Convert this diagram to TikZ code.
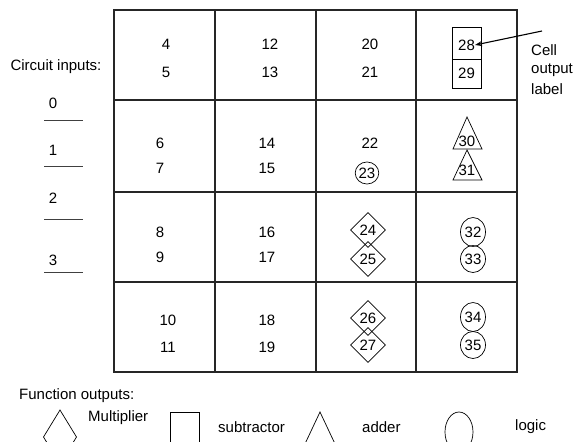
\documentclass[tikz,border=0pt]{standalone}
\usepackage{fontspec}
\setmainfont{Liberation Sans}
\usetikzlibrary{shapes.geometric,arrows.meta}
\begin{document}
\begin{tikzpicture}[x=1pt,y=-1pt,
  lbl/.style={font=\fontsize{15}{17}\selectfont,inner sep=0pt},
  grid/.style={line width=1.1pt,draw=black!85},
  dia/.style={draw,diamond,inner sep=0pt,minimum width=35pt,minimum height=35pt,line width=0.7pt,font=\fontsize{15}{17}\selectfont},
  ell/.style={draw,ellipse,inner sep=0pt,line width=0.7pt,font=\fontsize{15}{17}\selectfont},
  shp/.style={line width=0.7pt},
  inline/.style={line width=0.9pt,draw=black!75}]
\useasboundingbox (0,0) rectangle (574,442);
\clip (0,0) rectangle (574,442);
% grid
\draw[grid] (114,10) rectangle (517,372);
\foreach \x in {215,316,416} \draw[grid] (\x,10) -- (\x,372);
\foreach \y in {100,192,282} \draw[grid] (114,\y) -- (517,\y);
% column 1
\node[lbl] (n4) at (166,44) {4};
\node[lbl] (n5) at (166,72) {5};
\node[lbl] (n6) at (160,143) {6};
\node[lbl] (n7) at (160,168) {7};
\node[lbl] (n8) at (160,232) {8};
\node[lbl] (n9) at (160,257) {9};
\node[lbl] (n10) at (168,320) {10};
\node[lbl] (n11) at (168,347) {11};
% column 2
\node[lbl] (n12) at (270,44) {12};
\node[lbl] (n13) at (270,72) {13};
\node[lbl] (n14) at (267,143) {14};
\node[lbl] (n15) at (267,168) {15};
\node[lbl] (n16) at (267,232) {16};
\node[lbl] (n17) at (267,257) {17};
\node[lbl] (n18) at (267,320) {18};
\node[lbl] (n19) at (267,347) {19};
% column 3
\node[lbl] (n20) at (370,44) {20};
\node[lbl] (n21) at (370,72) {21};
\node[lbl] (n22) at (370,143) {22};
\node[ell,minimum width=23pt,minimum height=22pt] (n23) at (367,173) {23};
\node[dia] (n24) at (368,230) {24};
\node[dia] (n25) at (368,259) {25};
\node[dia] (n26) at (368,318) {26};
\node[dia] (n27) at (368,345) {27};
% column 4
\draw[shp] (452,27) rectangle (481,88);
\draw[shp] (452,59) -- (481,59);
\node[lbl] (n28) at (466.5,45) {28};
\node[lbl] (n29) at (466.5,73) {29};
\draw[shp] (467,117) -- (482,149) -- (453,149) -- cycle;
\draw[shp] (467,150) -- (482,180) -- (453,180) -- cycle;
\node[lbl] (n30) at (467,141) {30};
\node[lbl] (n31) at (467,170) {31};
\node[ell,minimum width=25pt,minimum height=29pt] (n32) at (473,232) {32};
\node[ell,minimum width=25pt,minimum height=27pt] (n33) at (473,259) {33};
\node[ell,minimum width=25pt,minimum height=29pt] (n34) at (473,317) {34};
\node[ell,minimum width=25pt,minimum height=27pt] (n35) at (473,345) {35};
% cell output label
\node[lbl,anchor=west] (cell) at (531,50) {Cell};
\node[lbl,anchor=west] (outp) at (531,70) {output};
\node[lbl,anchor=west] (labl) at (531,89) {label};
\coordinate (arrS) at (542,31);
\draw[line width=1.1pt,-{Stealth[length=7pt,width=5pt]}] (arrS) -- (n28.east);
% circuit inputs
\node[lbl] (cin) at (56,67) {Circuit inputs:};
\node[lbl] (i0) at (53,103) {0};
\node[lbl] (i1) at (53,150) {1};
\node[lbl] (i2) at (53,198) {2};
\node[lbl] (i3) at (53,260) {3};
\foreach \y in {120,166,219,272} \draw[inline] (44,\y) -- (83,\y);
% function outputs
\node[lbl,anchor=west] (fo) at (19,396) {Function outputs:};
\draw[shp] (60,410) -- (76.5,437) -- (60,464) -- (43.5,437) -- cycle;
\node[lbl,anchor=west] (lm) at (88,418) {Multiplier};
\draw[shp] (170,412) rectangle (199,470);
\node[lbl,anchor=west] (ls) at (218,427) {subtractor};
\draw[shp] (320,412) -- (336,446) -- (304,446) -- cycle;
\node[lbl,anchor=west] (la) at (362,427) {adder};
\draw[shp] (459,432) ellipse [x radius=14, y radius=20];
\node[lbl,anchor=west] (ll) at (515,427) {logic};
\end{tikzpicture}
\end{document}
